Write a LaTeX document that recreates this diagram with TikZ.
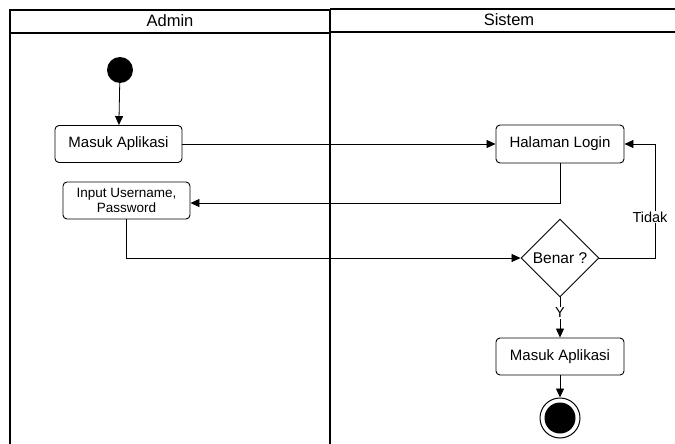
\documentclass[tikz,border=0pt]{standalone}
\usepackage{fontspec}
\setmainfont{Liberation Sans}
\usetikzlibrary{shapes.geometric,arrows.meta}
\begin{document}
\begin{tikzpicture}[x=1pt,y=-1pt,
  lane/.style={draw=black,line width=1.1pt},
  act/.style={draw=black,line width=0.9pt,rounded corners=4pt,minimum width=127pt,minimum height=37pt,align=center,font=\fontsize{15}{17}\selectfont},
  dec/.style={draw=black,line width=0.9pt,diamond,minimum width=78pt,minimum height=78pt,inner sep=0pt,font=\fontsize{15.5}{17}\selectfont},
  flow/.style={draw=black,line width=0.8pt,-{Triangle[length=9pt,width=8pt]}},
  lbl/.style={fill=white,inner sep=1pt,font=\fontsize{14.5}{16}\selectfont},
  hdr/.style={font=\fontsize{16.5}{18}\selectfont}
]
\useasboundingbox (0,0) rectangle (675,444);
% swimlanes
\draw[lane] (10,444) -- (10,10) -- (330,10) -- (330,444);
\draw[lane] (10,33) -- (330,33);
\draw[lane,line width=1.5pt] (330,9) -- (676,9);
\draw[lane] (330,32) -- (676,32);
\node[hdr] (hA) at (170,21) {Admin};
\node[hdr] (hS) at (509,20) {Sistem};
% nodes
\node[circle,fill=black,minimum size=26pt,inner sep=0pt] (start) at (120,70) {};
\node[act] (masuk1) at (118.5,144) {Masuk Aplikasi};
\node[act,font=\fontsize{13.5}{15.5}\selectfont] (input) at (126.5,200.5) {Input Username,\\Password};
\node[act,minimum width=128pt,minimum height=38pt] (login) at (560,144) {Halaman Login};
\node[dec] (benar) at (560,258) {Benar ?};
\node[act,minimum width=128pt] (masuk2) at (560,356.5) {Masuk Aplikasi};
\node[circle,draw=black,line width=1pt,minimum size=40pt,inner sep=0pt] (end) at (560,418) {};
\node[circle,fill=black,minimum size=31pt,inner sep=0pt] (endin) at (560,418) {};
% connectors
\draw[flow] (start) -- (masuk1);
\draw[flow] (masuk1) -- (login);
\draw[flow] (login.south) |- (input.east |- 0,203) coordinate (c1);
\draw[flow] (input.south -| 126,0) |- (benar.west);
\draw[flow] (benar.east) -- (655,258) -- (655,144) -- (login.east);
\node[lbl] (tidak) at (650,217) {Tidak};
\draw[flow] (benar.south) -- (masuk2.north);
\node[lbl] (y) at (560,313) {Y};
\draw[flow] (masuk2.south) -- (end.north);
\end{tikzpicture}
\end{document}
